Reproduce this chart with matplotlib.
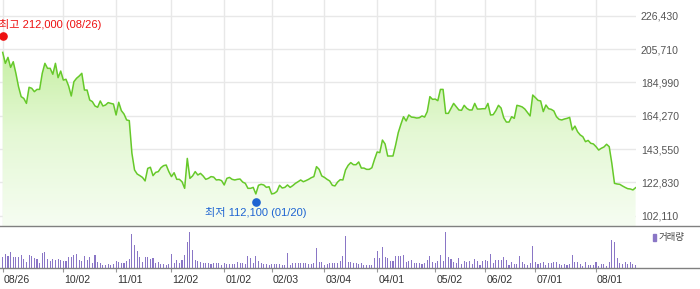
import matplotlib
matplotlib.use("Agg")
import matplotlib.pyplot as plt
import matplotlib.transforms as mtransforms
from matplotlib.colors import LinearSegmentedColormap
from matplotlib.lines import Line2D
import numpy as np

# trading days 2024-08-26 .. 2025-08-25, one value per session
close = [
    203600, 196800, 200500, 194300, 197800, 190600, 182300, 176100, 175000, 171900,
    181900, 181300, 179200, 180600, 180600, 190600, 196800, 193700, 193700, 190000,
    196800, 187900, 192000, 186400, 186900, 182700, 176500, 185400, 187500, 188900,
    190600, 180200, 180200, 174000, 173000, 170300, 169500, 173400, 170300, 170900,
    172400, 171900, 171500, 164700, 172600, 167400, 165300, 161600, 161200, 140900,
    130500, 128000, 127000, 125900, 123700, 131500, 132200, 127000, 129000, 129500,
    131900, 133200, 133600, 129500, 126400, 128800, 124700, 124700, 123200, 119100,
    137700, 125300, 126800, 129500, 127400, 128400, 126800, 124700, 125300, 126400,
    126100, 124300, 124500, 123900, 121200, 125300, 125900, 124700, 124300, 124700,
    124900, 123000, 122200, 119100, 119100, 119700, 115600, 121000, 121600, 121200,
    119700, 120100, 115600, 116000, 117200, 121000, 119300, 119700, 121200, 119700,
    120800, 122200, 123200, 124300, 123200, 123900, 124700, 125700, 126400, 132600,
    130900, 126800, 125900, 124700, 123700, 121000, 120600, 123000, 124500, 124300,
    130500, 133400, 135100, 133800, 133800, 135500, 131700, 131700, 130900, 130900,
    131900, 137100, 141700, 141300, 149100, 146700, 139200, 139200, 139200, 146000,
    153700, 158900, 163600, 161000, 164700, 163400, 163200, 162800, 163000, 164100,
    163400, 166800, 176100, 174400, 174600, 173600, 180600, 180600, 165700, 165700,
    168800, 171900, 169900, 167800, 167600, 170700, 168800, 167800, 167800, 171900,
    168400, 168400, 168600, 168600, 171900, 164700, 164900, 167400, 170700, 169000,
    163000, 160300, 160300, 163600, 162600, 170700, 170300, 169700, 168400, 166300,
    164100, 177100, 175500, 173800, 173400, 166800, 170900, 168600, 168200, 167200,
    163600, 162000, 161600, 162200, 162600, 163200, 155400, 157800, 154300, 152300,
    151200, 148100, 148900, 147100, 146700, 145000, 142900, 144000, 144800, 146500,
    145000, 134600, 122200, 121800, 121600, 120600, 119700, 118900, 118700, 118100,
    119500,
]

# volume (10k shares)
volume = [
    35, 43, 37, 49, 33, 33, 35, 40, 27, 20,
    40, 37, 30, 27, 17, 45, 49, 27, 21, 27,
    25, 27, 25, 23, 23, 33, 35, 41, 43, 25,
    22, 37, 25, 35, 17, 41, 19, 15, 11, 9,
    13, 9, 13, 21, 19, 15, 17, 23, 27, 103,
    71, 53, 35, 19, 33, 35, 29, 31, 15, 19,
    13, 13, 11, 13, 43, 17, 25, 15, 25, 41,
    79, 109, 55, 25, 23, 19, 15, 17, 17, 13,
    15, 15, 15, 9, 15, 13, 13, 13, 13, 19,
    17, 17, 13, 37, 31, 17, 37, 23, 15, 13,
    13, 11, 13, 13, 13, 13, 9, 9, 47, 11,
    15, 15, 15, 15, 17, 15, 13, 13, 15, 61,
    19, 19, 11, 13, 17, 15, 17, 17, 21, 37,
    97, 19, 20, 15, 15, 13, 15, 9, 10, 10,
    10, 30, 52, 30, 65, 35, 30, 22, 22, 37,
    37, 37, 40, 20, 22, 25, 17, 15, 17, 12,
    17, 25, 37, 20, 15, 22, 40, 22, 109, 35,
    28, 20, 15, 30, 13, 22, 18, 22, 13, 27,
    22, 10, 22, 25, 22, 43, 17, 25, 25, 25,
    33, 25, 10, 20, 12, 13, 38, 20, 12, 10,
    17, 67, 20, 13, 15, 20, 10, 17, 15, 20,
    20, 12, 10, 13, 10, 13, 40, 20, 20, 12,
    8, 18, 10, 10, 10, 20, 8, 12, 12, 8,
    18, 85, 79, 30, 15, 12, 20, 12, 20, 12,
    10,
]

tick_idx = [0, 23, 43, 64, 84, 102, 122, 142, 164, 183, 202, 225]
tick_labels = ["08/26", "10/02", "11/01", "12/02", "01/02", "02/03",
               "03/04", "04/01", "05/02", "06/02", "07/01", "08/01"]
price_ticks = [102110, 122830, 143550, 164270, 184990, 205710, 226430]

high_idx, high_val, high_date = 0, 212000, "08/26"
low_idx, low_val, low_date = 96, 112100, "01/20"

W, H = 700, 289
FONT = ["Liberation Sans", "Noto Sans CJK KR", "DejaVu Sans"]
plt.rcParams["font.family"] = FONT

fig = plt.figure(figsize=(W / 100, H / 100), dpi=100)


def box(x0, y0, x1, y1):
    return [x0 / W, 1 - y1 / H, (x1 - x0) / W, (y1 - y0) / H]


px_per_day = 2.637
x0_px = 2.7
right_px = 636
xlim = (-x0_px / px_per_day, (right_px - x0_px) / px_per_day)

x = np.arange(len(close))

# price panel
ax = fig.add_axes(box(0, 0, right_px, 226))
ax.set_xlim(*xlim)
ax.set_ylim(95690, 236170)
for s in ax.spines.values():
    s.set_visible(False)

ax.set_yticks(price_ticks)
ax.set_yticklabels([f"{v:,}" for v in price_ticks])
ax.yaxis.tick_right()
ax.tick_params(axis="y", length=0, pad=3.4, labelsize=7.6, labelcolor="#555555")
ax.set_xticks(tick_idx)
ax.tick_params(axis="x", length=0, labelbottom=False)
ax.grid(True, color="#e8e8e8", lw=1.0)
ax.set_axisbelow(True)

# gradient fill under the line
poly = ax.fill_between(x, close, 95690, color="none", lw=0)
cmap = LinearSegmentedColormap.from_list("g", ["#c2ee9c", "#e4f8d4", "#f6fdf2"])
grad = np.linspace(0, 1, 256).reshape(-1, 1)
img = ax.imshow(grad, extent=[xlim[0], xlim[1], 95690, 212000], aspect="auto",
                origin="upper", cmap=cmap, zorder=1)
img.set_clip_path(poly.get_paths()[0], transform=ax.transData)
ax.set_ylim(95690, 236170)

ax.plot(x, close, color="#66c92a", lw=1.1, zorder=3, solid_joinstyle="round")

# high / low markers
up = mtransforms.offset_copy(ax.transData, fig=fig, x=0, y=2.5, units="dots")
down = mtransforms.offset_copy(ax.transData, fig=fig, x=0, y=-2.7, units="dots")
ax.plot([high_idx], [high_val], "o", color="#ee1111", ms=5.2, transform=up,
        zorder=4, clip_on=False)
ax.plot([low_idx], [low_val], "o", color="#1e64d2", ms=5.2, transform=down,
        zorder=4, clip_on=False)
ax.annotate(f"최고 {high_val:,} ({high_date})", (high_idx, high_val),
            xytext=(-3.7, 13.9), textcoords="offset pixels", ha="left",
            va="center", fontsize=8, color="#ee1111", annotation_clip=False)
ax.annotate(f"최저 {low_val:,} ({low_date})", (low_idx, low_val),
            xytext=(0, -12.7), textcoords="offset pixels", ha="center",
            va="center", fontsize=8, color="#1e64d2", annotation_clip=False)

# volume panel
vax = fig.add_axes(box(0, 228, right_px, 268.3))
vax.set_xlim(*xlim)
vax.set_ylim(0, 121)
for s in vax.spines.values():
    s.set_visible(False)
vax.bar(x, volume, width=0.4, color="#8a76c6", lw=0)
vax.set_yticks([])
vax.set_xticks(tick_idx)
vax.set_xticklabels(tick_labels, ha="left")
vax.tick_params(axis="x", direction="out", length=2.9, width=0.8,
                color="#999999", pad=2.0, labelsize=7.6, labelcolor="#333333")
offset = mtransforms.ScaledTranslation(1 / 100, 0, fig.dpi_scale_trans)
for lbl in vax.get_xticklabels():
    lbl.set_transform(lbl.get_transform() + offset)

# legend
fig.patches.append(plt.Rectangle((652.7 / W, 1 - 241.3 / H), 2.8 / W, 7.3 / H,
                                 transform=fig.transFigure, color="#8a76c6"))
fig.text(658.5 / W, 1 - 237.7 / H, "거래량", ha="left", va="center",
         fontsize=6.8, color="#444444")

# panel separators
for yp in (225.8, 268.3):
    fig.add_artist(Line2D([0, 1], [1 - yp / H] * 2, transform=fig.transFigure,
                          color="#808080", lw=1.0))

fig.savefig("out.png", dpi=100)
